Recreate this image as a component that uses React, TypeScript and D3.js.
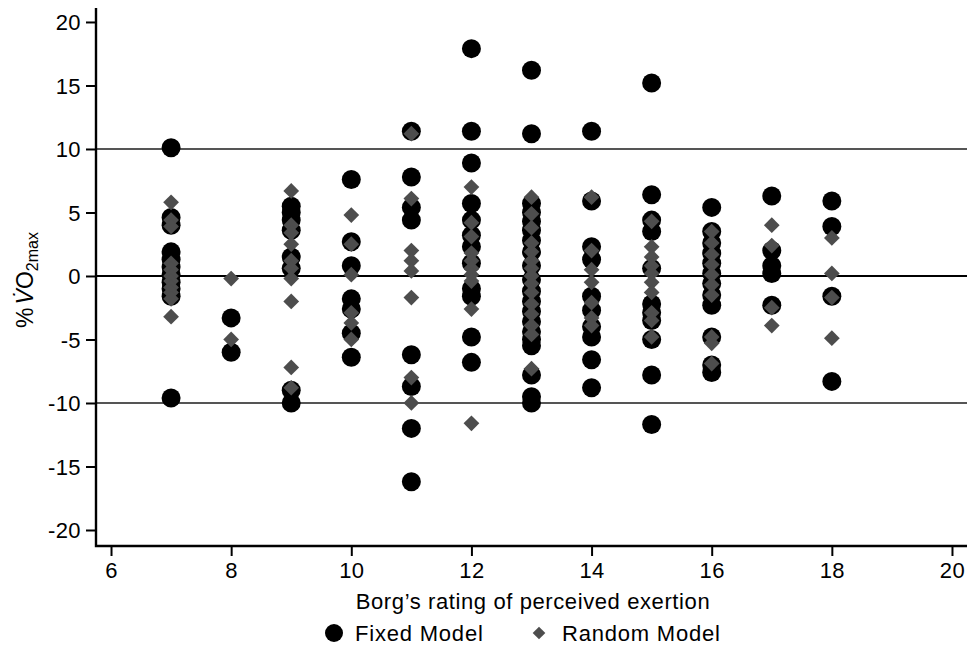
import React, { useEffect, useRef } from 'react';
import * as d3 from 'd3';

// Borg RPE levels (x positions)
const borgLevels = [7, 8, 9, 10, 11, 12, 13, 14, 15, 16, 17, 18];

// %VO2max differences, one list per Borg level
const fixedModel: number[][] = [
  [10.1, 4.6, 4.0, 1.9, 1.3, 0.7, 0.1, -0.5, -1.0, -1.6, -9.6],
  [-3.3, -6.0],
  [5.5, 5.0, 4.4, 3.6, 1.5, 0.6, -9.0, -10.0],
  [7.6, 2.7, 0.8, -1.8, -2.6, -4.5, -6.4],
  [11.4, 7.8, 5.4, 4.4, -6.2, -8.7, -12.0, -16.2],
  [17.9, 11.4, 8.9, 5.7, 4.4, 3.2, 2.3, 1.0, -1.0, -1.6, -4.8, -6.8],
  [16.2, 11.2, 5.7, 5.0, 4.3, 3.6, 2.8, 1.9, 0.8, -0.3, -1.2, -2.0, -2.8, -3.6, -4.4, -5.0, -5.5, -7.8, -9.5, -10.0],
  [11.4, 5.9, 2.3, 1.3, -1.6, -2.7, -4.0, -4.8, -6.6, -8.8],
  [15.2, 6.4, 4.4, 3.5, 0.6, -2.2, -2.9, -3.5, -5.0, -7.8, -11.7],
  [5.4, 3.5, 2.6, 1.8, 1.0, 0.2, -0.6, -1.5, -2.3, -4.8, -7.0, -7.6],
  [6.3, 2.0, 0.8, 0.2, -2.3],
  [5.9, 3.9, -1.6, -8.3],
];

const randomModel: number[][] = [
  [5.8, 4.4, 3.9, 1.0, 0.5, 0.0, -0.4, -0.9, -1.3, -1.8, -3.2],
  [-0.2, -5.0],
  [6.7, 4.0, 3.4, 2.5, 1.2, 0.6, -0.2, -2.0, -7.2, -8.8],
  [4.8, 2.5, 0.1, -2.9, -3.7, -5.0],
  [11.2, 6.1, 2.0, 1.2, 0.4, -1.7, -8.0, -10.0],
  [7.0, 4.2, 3.1, 1.8, 1.2, 0.6, 0.1, -0.4, -2.6, -11.6],
  [6.2, 4.9, 3.8, 2.6, 1.9, 1.2, 0.6, 0.0, -0.6, -1.3, -2.2, -3.0, -3.9, -4.6, -7.3],
  [6.2, 2.0, 0.5, -0.5, -2.1, -3.3, -3.9],
  [4.3, 2.3, 1.5, 0.8, 0.2, -0.5, -1.3, -2.9, -3.5, -4.8],
  [3.5, 2.6, 1.7, 0.9, 0.1, -0.7, -1.5, -4.8, -5.3, -6.9],
  [4.0, 2.4, -2.5, -3.9],
  [3.0, 0.2, -1.7, -4.9],
];

const xTicks = [6, 8, 10, 12, 14, 16, 18, 20];
const yTicks = [-20, -15, -10, -5, 0, 5, 10, 15, 20];
const refLines = [-10, 10];

const FONT = '"Liberation Sans", Arial, Helvetica, sans-serif';

function App() {
  const ref = useRef<SVGSVGElement>(null);

  useEffect(() => {
    const left = 96,
      top = 8,
      bottom = 546,
      right = 967;

    const svg = d3.select(ref.current);
    svg.selectAll('*').remove();

    const x = d3.scaleLinear().domain([5.75, 20.25]).range([left, right]);
    const y = d3.scaleLinear().domain([-21.26, 21.1]).range([bottom, top]);

    // reference lines
    svg
      .selectAll('line.ref')
      .data(refLines)
      .enter()
      .append('line')
      .attr('x1', left)
      .attr('x2', right)
      .attr('y1', (d) => y(d))
      .attr('y2', (d) => y(d))
      .attr('stroke', '#555')
      .attr('stroke-width', 2);

    svg
      .append('line')
      .attr('x1', left)
      .attr('x2', right)
      .attr('y1', y(0))
      .attr('y2', y(0))
      .attr('stroke', '#000')
      .attr('stroke-width', 2.2);

    // axes
    const yAxis = svg
      .append('g')
      .attr('transform', `translate(${left},0)`)
      .call(
        d3.axisLeft(y).tickValues(yTicks).tickSize(10).tickPadding(5)
          .tickFormat((d) => String(d))
      );
    const xAxis = svg
      .append('g')
      .attr('transform', `translate(0,${bottom})`)
      .call(
        d3.axisBottom(x).tickValues(xTicks).tickSize(10).tickPadding(6)
          .tickFormat((d) => String(d))
      );

    [yAxis, xAxis].forEach((g) => {
      g.select('.domain').remove();
      g.selectAll('line').attr('stroke', '#000').attr('stroke-width', 2);
      g.selectAll('text')
        .attr('fill', '#000')
        .style('font-family', FONT)
        .style('font-size', '22px')
        .style('letter-spacing', '0.4px');
    });
    yAxis.selectAll('text').attr('dy', '0.36em');

    svg
      .append('path')
      .attr('d', `M${left},${top}V${bottom}H${right}`)
      .attr('fill', 'none')
      .attr('stroke', '#000')
      .attr('stroke-width', 2.4);

    // points: circles first, diamonds on top
    const fixedPts = borgLevels.flatMap((b, i) => fixedModel[i].map((v) => [b, v]));
    const randomPts = borgLevels.flatMap((b, i) => randomModel[i].map((v) => [b, v]));

    svg
      .append('g')
      .selectAll('circle')
      .data(fixedPts)
      .enter()
      .append('circle')
      .attr('cx', (d) => x(d[0]))
      .attr('cy', (d) => y(d[1]))
      .attr('r', 9.5)
      .attr('fill', '#000');

    const diamond = d3.symbol().type(d3.symbolSquare).size(124);
    svg
      .append('g')
      .selectAll('path')
      .data(randomPts)
      .enter()
      .append('path')
      .attr('d', diamond)
      .attr('transform', (d) => `translate(${x(d[0])},${y(d[1])}) rotate(45)`)
      .attr('fill', '#4d4d4d');

    // axis titles
    svg
      .append('text')
      .attr('x', 533)
      .attr('y', 609)
      .attr('text-anchor', 'middle')
      .style('font-family', FONT)
      .style('font-size', '22px')
      .style('letter-spacing', '0.6px')
      .text('Borg\u2019s rating of perceived exertion');

    const yt = svg
      .append('text')
      .attr('transform', 'translate(33,280) rotate(-90)')
      .attr('text-anchor', 'middle')
      .style('font-family', FONT)
      .style('font-size', '23px');
    yt.append('tspan').text('%');
    yt.append('tspan').attr('font-style', 'italic').attr('dx', 3).text('V\u0307');
    yt.append('tspan').text('O');
    yt.append('tspan').attr('font-size', '16px').attr('dy', 5).text('2max');

    // legend
    const legend = svg.append('g');
    legend.append('circle').attr('cx', 334).attr('cy', 633).attr('r', 9).attr('fill', '#000');
    legend
      .append('text')
      .attr('x', 355)
      .attr('y', 641)
      .style('font-family', FONT)
      .style('font-size', '22px')
      .style('letter-spacing', '0.8px')
      .text('Fixed Model');
    legend
      .append('path')
      .attr('d', d3.symbol().type(d3.symbolSquare).size(80))
      .attr('transform', 'translate(539,633) rotate(45)')
      .attr('fill', '#4d4d4d');
    legend
      .append('text')
      .attr('x', 562)
      .attr('y', 641)
      .style('font-family', FONT)
      .style('font-size', '22px')
      .style('letter-spacing', '0.8px')
      .text('Random Model');
  }, []);

  return (
    <svg
      ref={ref}
      width={967}
      height={662}
      style={{ position: 'absolute', left: 0, top: 0, background: '#fff' }}
    />
  );
}

export default App;
